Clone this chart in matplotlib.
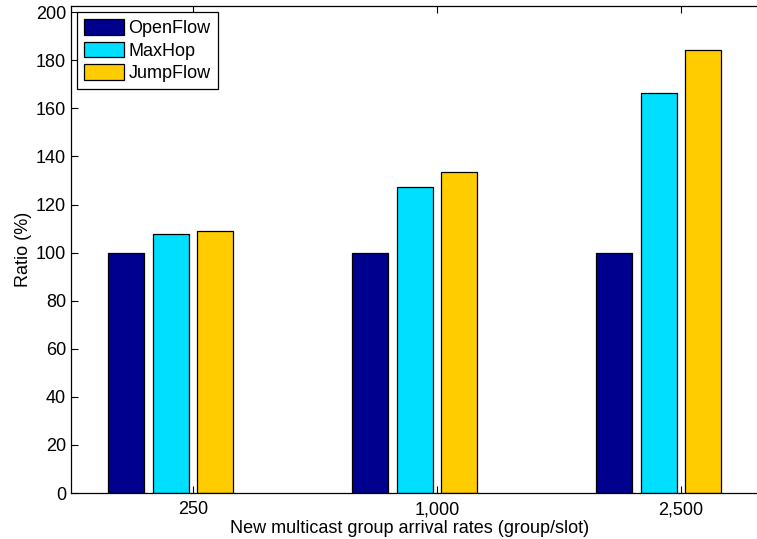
import numpy as np
import matplotlib
matplotlib.use('Agg')
import matplotlib.pyplot as plt

# data
rates = ['250', '1,000', '2,500']
openflow = [100, 100, 100]
maxhop = [107.7, 127.4, 166.6]
jumpflow = [109.2, 133.5, 184.1]

series = ['OpenFlow', 'MaxHop', 'JumpFlow']
colors = ['#00008F', '#00DFFF', '#FFCC00']

plt.rcParams['font.family'] = ['Liberation Sans', 'DejaVu Sans']
plt.rcParams['font.size'] = 13

fig = plt.figure(figsize=(7.57, 5.39), dpi=100)
# axes run past the right edge, like the cropped original
ax = fig.add_axes([71 / 757, 46 / 539, 732 / 757, 487 / 539])

x = np.arange(1, len(rates) + 1)
step = 0.182
width = 0.148
# four slots per group, the last one is empty
offsets = [-1.5, -0.5, 0.5]
for vals, name, c, off in zip([openflow, maxhop, jumpflow], series, colors, offsets):
    ax.bar(x + off * step, vals, width, color=c, edgecolor='black',
           linewidth=0.9, label=name)

ax.set_xlim(0.5, 3.5)
ax.set_ylim(0, 202.6)
ax.set_xticks(x)
ax.set_xticklabels(rates)
ax.set_yticks(np.arange(0, 201, 20))
ax.tick_params(direction='in', length=5, top=True, right=False, width=0.8)
ax.tick_params(axis='x', pad=6)
for s in ['left', 'bottom', 'top']:
    ax.spines[s].set_linewidth(0.9)
ax.spines['right'].set_visible(False)

ax.set_xlabel('New multicast group arrival rates (group/slot)')
ax.xaxis.set_label_coords(0.463, -0.055)
ax.set_ylabel('Ratio (%)', labelpad=3)

leg = ax.legend(loc='upper left', borderaxespad=0.33, fancybox=False,
                edgecolor='black', framealpha=1, handlelength=2.2,
                handleheight=0.95, handletextpad=0.25, labelspacing=0.25,
                borderpad=0.4)
leg.get_frame().set_linewidth(0.9)

fig.savefig('out.png', dpi=100)
